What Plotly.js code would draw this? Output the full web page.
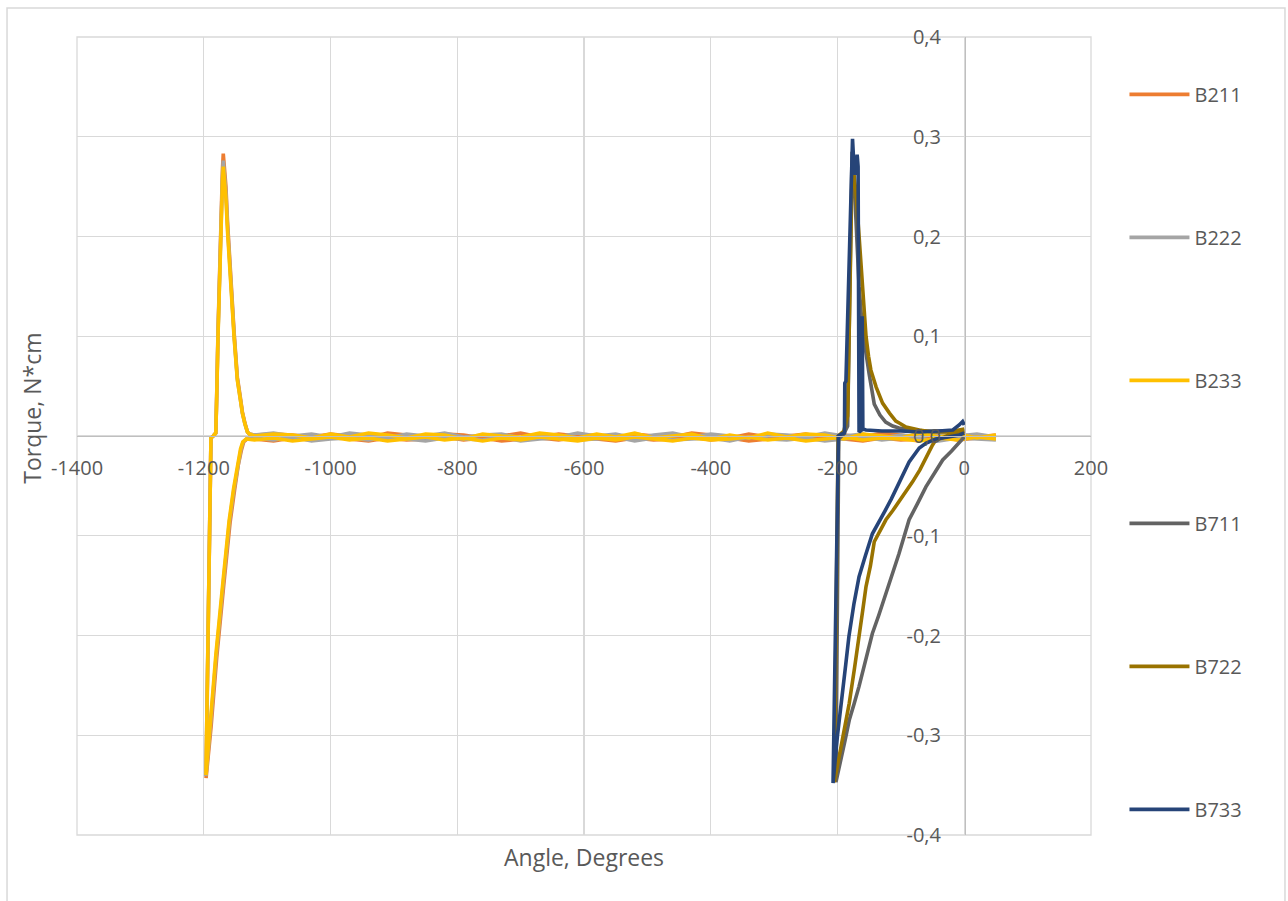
<!DOCTYPE html>
<html><head><meta charset="utf-8">
<script src="https://cdn.plot.ly/plotly-3.0.1.min.js"></script>
<style>html,body{margin:0;padding:0;background:#fff}#chart{width:1288px;height:901px}</style>
</head><body><div id="chart"></div>
<script>
// ---------- data ----------
const seriesNames = ['B211','B222','B233','B711','B722','B733'];

const xTickVals = [-1400,-1200,-1000,-800,-600,-400,-200,0,200];
const xTickText = ['-1400','-1200','-1000','-800','-600','-400','-200','0','200'];
const yTickVals = [-0.4,-0.3,-0.2,-0.1,0,0.1,0.2,0.3,0.4];
const yTickText = ['-0,4','-0,3','-0,2','-0,1','0,0','0,1','0,2','0,3','0,4'];

// flat (near-zero) section sample angles, going from +50 leftwards
const flatX = [50,20,-10,-40,-70,-100,-130,-160,-190,-220,-250,-280,-310,-340,-370,-400,-430,-460,-490,-520,-550,-580,-610,-640,-670,-700,-730,-760,-790,-820,-850,-880,-910,-940,-970,-1000,-1030,-1060,-1090,-1120];

const b211FlatUp   = [0.001,-0.001,0.002,0.000,-0.002,0.001,0.003,-0.001,0.001,-0.002,0.002,0.000,-0.001,0.002,-0.002,0.001,0.003,-0.001,0.000,0.002,-0.002,0.001,0.000,0.002,-0.001,0.003,0.000,-0.002,0.001,0.002,-0.001,0.001,0.003,-0.002,0.000,0.002,-0.001,0.001,0.002,0.001];
const b211FlatDown = [-0.003,-0.005,-0.002,-0.004,-0.001,-0.003,-0.005,-0.002,-0.004,-0.003,-0.001,-0.004,-0.002,-0.005,-0.003,-0.002,-0.004,-0.001,-0.003,-0.005,-0.002,-0.004,-0.003,-0.001,-0.004,-0.002,-0.005,-0.003,-0.002,-0.004,-0.001,-0.003,-0.005,-0.002,-0.004,-0.003,-0.001,-0.004,-0.002,-0.003];
const b222FlatUp   = [-0.001,0.002,0.000,0.003,-0.001,0.001,-0.002,0.002,0.000,0.003,-0.001,0.001,0.002,-0.002,0.000,0.002,-0.001,0.003,0.001,-0.002,0.002,0.000,0.003,-0.001,0.001,-0.002,0.002,0.001,-0.001,0.003,0.000,0.002,-0.002,0.001,0.003,-0.001,0.002,0.000,0.003,0.001];
const b222FlatDown = [-0.002,-0.004,-0.001,-0.005,-0.003,-0.002,-0.004,-0.001,-0.003,-0.005,-0.002,-0.003,-0.004,-0.001,-0.005,-0.003,-0.002,-0.004,-0.003,-0.001,-0.005,-0.002,-0.004,-0.003,-0.002,-0.005,-0.001,-0.003,-0.004,-0.002,-0.005,-0.003,-0.001,-0.004,-0.002,-0.003,-0.005,-0.002,-0.003,-0.004];
const b233FlatUp   = [0.001,-0.002,0.002,-0.001,0.003,-0.002,0.000,0.002,-0.003,0.001,0.002,-0.001,0.003,-0.002,0.001,-0.003,0.002,0.000,-0.002,0.003,-0.001,0.002,-0.002,0.001,0.003,-0.001,0.000,0.002,-0.003,0.001,0.002,-0.002,0.001,0.003,-0.001,0.002,-0.002,0.001,0.002,0.000];
const b233FlatDown = [-0.004,-0.002,-0.005,-0.003,-0.001,-0.004,-0.002,-0.005,-0.003,-0.001,-0.004,-0.002,-0.005,-0.002,-0.004,-0.001,-0.003,-0.005,-0.002,-0.004,-0.001,-0.003,-0.005,-0.002,-0.004,-0.003,-0.001,-0.004,-0.002,-0.005,-0.003,-0.001,-0.004,-0.002,-0.003,-0.005,-0.002,-0.004,-0.001,-0.003];

// peak / loop part of the B2xx curves
const b233LoopX = [-1128,-1131,-1135,-1139,-1143,-1147,-1152,-1156,-1160,-1162.5,-1165,-1167.5,-1169.2,-1170.5,-1172.5,-1175.5,-1177.5,-1179.5,-1181,-1185,-1188.6,-1190.5,-1192.5,-1194.5,-1195.8,-1196.5,-1190,-1181,-1170,-1160,-1153,-1147,-1142,-1138.5,-1133];
const b233LoopY = [0.002,0.004,0.012,0.023,0.04,0.056,0.098,0.137,0.173,0.205,0.238,0.26,0.270,0.255,0.21,0.163,0.10,0.04,0.003,0.0,-0.002,-0.083,-0.169,-0.255,-0.31,-0.340,-0.29,-0.22,-0.148,-0.085,-0.053,-0.028,-0.013,-0.006,-0.003];
const b222LoopX = [-1128,-1131,-1135,-1139,-1143,-1147,-1152,-1156,-1160,-1162.5,-1165,-1167.5,-1169.2,-1170.5,-1172.5,-1175.5,-1177.5,-1179.5,-1181,-1185,-1188.6,-1190.5,-1192.5,-1194.5,-1195.8,-1196.5,-1189.5,-1180.5,-1169.5,-1159.5,-1152.5,-1146.5,-1141.5,-1138,-1132.5];
const b222LoopY = [0.002,0.004,0.012,0.023,0.04,0.057,0.1,0.14,0.177,0.21,0.244,0.266,0.276,0.26,0.214,0.166,0.102,0.041,0.003,0.0,-0.002,-0.083,-0.169,-0.256,-0.311,-0.341,-0.291,-0.221,-0.149,-0.086,-0.054,-0.029,-0.014,-0.006,-0.003];
const b211LoopX = [-1128,-1131,-1135,-1139,-1143,-1147,-1152,-1156,-1160,-1162.5,-1165,-1167.5,-1169.2,-1170.5,-1172.5,-1175.5,-1177.5,-1179.5,-1181,-1185,-1188.6,-1190.5,-1192.5,-1194.5,-1195.8,-1196.3,-1188.5,-1179.5,-1168.5,-1158.5,-1151.5,-1145.5,-1140.5,-1137,-1131.5];
const b211LoopY = [0.002,0.004,0.013,0.024,0.042,0.059,0.103,0.144,0.181,0.215,0.25,0.273,0.283,0.267,0.22,0.171,0.105,0.042,0.003,0.0,-0.002,-0.084,-0.171,-0.258,-0.313,-0.343,-0.292,-0.222,-0.15,-0.087,-0.055,-0.029,-0.014,-0.006,-0.003];

// B7xx loops
const b711X = [0,-8,-20,-34,-47,-60.5,-74,-87,-103,-113,-124,-135,-145,-155,-166,-174,-181.5,-188,-194.6,-199,-202.5,-198,-190,-184,-179,-177,-174,-170,-166,-162,-158,-155,-150,-142,-133,-124,-113,-103,-85,-60,-35,-15,0];
const b711Y = [-0.001,-0.007,-0.015,-0.024,-0.037,-0.051,-0.068,-0.084,-0.118,-0.138,-0.158,-0.18,-0.198,-0.224,-0.251,-0.269,-0.285,-0.305,-0.325,-0.338,-0.347,-0.003,0.002,0.01,0.2,0.285,0.26,0.21,0.15,0.118,0.095,0.083,0.062,0.032,0.021,0.014,0.01,0.008,0.006,0.005,0.005,0.005,0.006];
const b722X = [0,-3,-12,-24,-35,-45,-50,-60.5,-70,-81.6,-92,-102.6,-113,-123.6,-133,-142,-148,-155,-160,-165.7,-173,-181.5,-187,-192,-198,-202,-205,-199,-190,-184,-177,-174,-171,-167,-163,-159,-155,-151,-147.3,-139,-128.9,-118,-108,-102.6,-92,-71,-50,-23.7,-2.6,0];
const b722Y = [0.005,0.004,0.003,0.001,-0.002,-0.004,-0.009,-0.022,-0.034,-0.046,-0.056,-0.066,-0.075,-0.084,-0.095,-0.106,-0.13,-0.151,-0.174,-0.201,-0.232,-0.268,-0.287,-0.305,-0.324,-0.337,-0.347,0.0,0.005,0.02,0.265,0.262,0.245,0.21,0.173,0.135,0.1,0.08,0.066,0.049,0.033,0.023,0.015,0.013,0.009,0.006,0.004,0.004,0.006,0.007];
const b733X = [0,-8,-25,-45,-60,-71,-87,-103,-115,-125,-135,-145,-156,-166,-174,-182,-187,-191,-195,-200,-204,-207,-198.5,-194,-189,-188.5,-186.7,-181.5,-176.3,-174,-172,-169,-167.5,-166,-162,-161,-160,-155,-130,-100,-71,-40,-18,-8,-2.6,0];
const b733Y = [0.003,0.001,-0.001,-0.003,-0.007,-0.012,-0.026,-0.048,-0.063,-0.075,-0.087,-0.098,-0.12,-0.141,-0.168,-0.201,-0.229,-0.25,-0.27,-0.30,-0.327,-0.348,0.0,0.002,0.003,0.053,0.055,0.183,0.298,0.27,0.262,0.282,0.27,0.004,0.006,0.12,0.007,0.006,0.005,0.005,0.004,0.005,0.006,0.011,0.0145,0.011];

// ---------- build ----------
const flatBack = flatX.slice().reverse();
function b2(up, lx, ly, down) {
  return { x: flatX.concat(lx, flatBack), y: up.concat(ly, down) };
}
const paths = [
  b2(b211FlatUp, b211LoopX, b211LoopY, b211FlatDown),
  b2(b222FlatUp, b222LoopX, b222LoopY, b222FlatDown),
  b2(b233FlatUp, b233LoopX, b233LoopY, b233FlatDown),
  { x: b711X, y: b711Y },
  { x: b722X, y: b722Y },
  { x: b733X, y: b733Y }
];
const colors = ['#ED7D31','#A5A5A5','#FFC000','#636363','#997300','#264478'];

const traces = paths.map((p, i) => ({
  type: 'scatter', mode: 'lines', name: seriesNames[i],
  x: p.x, y: p.y, legendgroup: 'g' + i,
  line: { color: colors[i], width: 3.6 }, hoverinfo: 'skip'
}));

const txt = '#595959';
const layout = {
  width: 1288, height: 901,
  margin: { l: 77, r: 197, t: 37, b: 66, pad: 0 },
  paper_bgcolor: '#ffffff', plot_bgcolor: '#ffffff',
  font: { family: 'Open Sans, sans-serif', size: 20, color: txt },
  xaxis: {
    range: [-1400, 200], tickmode: 'array', tickvals: xTickVals, ticktext: xTickText,
    showgrid: true, gridcolor: '#D9D9D9', gridwidth: 1.3, zeroline: false,
    showline: true, linecolor: '#BFBFBF', linewidth: 1.3,
    anchor: 'free', position: 0.5, ticks: '', ticklabelstandoff: 14,
    tickfont: { size: 20, color: txt }, fixedrange: true
  },
  yaxis: {
    range: [-0.4, 0.4], tickmode: 'array', tickvals: yTickVals, ticktext: yTickText,
    showgrid: true, gridcolor: '#D9D9D9', gridwidth: 1.3, zeroline: false,
    showline: true, linecolor: '#BFBFBF', linewidth: 1.3,
    anchor: 'free', position: 0.8757, ticks: '', ticklabelstandoff: 20,
    tickfont: { size: 20, color: txt }, fixedrange: true
  },
  showlegend: true,
  legend: {
    x: 1.033, y: 0.9525, xanchor: 'left', yanchor: 'top',
    traceorder: 'grouped', tracegroupgap: 114, itemwidth: 60,
    font: { size: 20, color: txt }, bgcolor: 'rgba(0,0,0,0)'
  },
  annotations: [
    { text: 'Angle, Degrees', xref: 'paper', yref: 'paper', x: 0.5, y: -0.0276,
      xanchor: 'center', yanchor: 'middle', showarrow: false, font: { size: 23, color: txt } },
    { text: 'Torque, N*cm', xref: 'paper', yref: 'paper', x: -0.0447, y: 0.535,
      xanchor: 'center', yanchor: 'middle', textangle: -90, showarrow: false, font: { size: 23, color: txt } }
  ],
  shapes: [
    { type: 'rect', xref: 'paper', yref: 'paper', x0: 0, x1: 1, y0: 0, y1: 1,
      line: { color: '#D9D9D9', width: 1.3 }, layer: 'below' },
    { type: 'rect', xref: 'paper', yref: 'paper', x0: -0.069, x1: 1.1913, y0: -0.094, y1: 1.0363,
      line: { color: '#D9D9D9', width: 1.5 }, layer: 'below' }
  ]
};

Plotly.newPlot('chart', traces, layout, { displayModeBar: false, staticPlot: true });
</script></body></html>
